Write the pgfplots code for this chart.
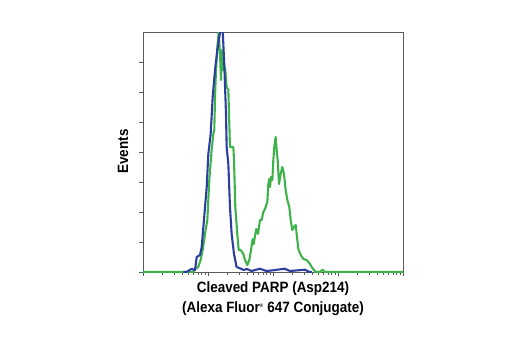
\documentclass[border=0pt]{standalone}
\usepackage{pgfplots}
\pgfplotsset{compat=1.18}
\usepackage{fontspec}
\setmainfont{Liberation Sans}[FakeStretch=0.9]
\definecolor{fcblue}{RGB}{44,62,160}
\definecolor{fcgreen}{RGB}{62,178,74}
\definecolor{axgray}{RGB}{90,90,90}
\begin{document}
\begin{tikzpicture}
\useasboundingbox (-143bp,-78bp) rectangle (377bp,272bp);
\begin{axis}[
  scale only axis, width=260bp, height=240bp,
  at={(0,0)}, anchor=south west,
  xmin=0, xmax=4, ymin=0, ymax=240,
  axis line style={axgray, line width=0.6pt},
  tick style={axgray, line width=0.6pt},
  tick align=outside,
  xtick={0,1,2,3,4},
  minor xtick={0.301,0.477,0.602,0.699,0.778,0.845,0.903,0.954,
               1.301,1.477,1.602,1.699,1.778,1.845,1.903,1.954,
               2.301,2.477,2.602,2.699,2.778,2.845,2.903,2.954,
               3.301,3.477,3.602,3.699,3.778,3.845,3.903,3.954},
  major tick length=4bp, minor tick length=2.5bp,
  ytick={0,30,60,90,120,150,180,210},
  xticklabels={}, yticklabels={},
  xtick pos=bottom, ytick pos=left,
  xlabel={\bfseries Cleaved PARP (Asp214)\\\bfseries (Alexa Fluor\textsuperscript{\tiny ®} 647 Conjugate)},
  xlabel style={at={(axis description cs:0.5,-0.039)}, anchor=north, align=center, font=\fontsize{15}{20}\selectfont, inner sep=0pt},
  ylabel={\bfseries Events},
  ylabel style={at={(axis description cs:-0.077,0.502)}, anchor=center, font=\fontsize{15}{18}\selectfont, inner sep=0pt},
]
\addplot[fcgreen, line width=2.1pt, line join=round] coordinates {
(0,0) (0.77,0) (0.8,3) (0.85,5) (0.887,12) (0.918,22) (0.954,38) (0.99,52)
(1.02,92) (1.056,122) (1.082,138) (1.097,142) (1.108,175) (1.123,202) (1.144,225)
(1.164,240) (1.185,218) (1.2,192) (1.215,222) (1.236,202) (1.262,205) (1.287,185)
(1.313,182) (1.338,125) (1.39,125) (1.4,112) (1.42,65) (1.451,38) (1.472,22)
(1.503,22) (1.544,18) (1.564,13) (1.605,7) (1.636,12) (1.662,22) (1.687,33)
(1.703,28) (1.728,38) (1.744,43) (1.77,38) (1.8,52) (1.826,52) (1.851,60)
(1.877,63) (1.913,70) (1.928,88) (1.944,93) (1.954,85) (1.97,95) (1.99,92)
(2.005,112) (2.02,125) (2.041,135) (2.056,122) (2.072,112) (2.092,88) (2.118,98)
(2.144,105) (2.169,98) (2.195,82) (2.221,72) (2.251,65) (2.272,52) (2.297,42)
(2.323,45) (2.349,47) (2.364,38) (2.39,23) (2.426,17) (2.467,13) (2.518,12)
(2.569,8) (2.595,5) (2.631,2) (2.656,0) (2.72,0) (2.764,2.3) (2.8,0) (4,0)
};
\addplot[fcblue, line width=2.1pt, line join=round] coordinates {
(0.62,0) (0.67,0) (0.75,3.3) (0.8,1.7) (0.826,15) (0.877,17) (0.903,25) (0.938,52)
(0.98,85) (1.005,118) (1.041,138) (1.072,175) (1.108,202) (1.144,222) (1.174,235)
(1.2,245) (1.226,242) (1.25,208) (1.277,158) (1.287,125) (1.313,108) (1.338,65)
(1.364,38) (1.4,18) (1.44,5) (1.518,3) (1.55,2) (1.6,3) (1.67,1) (1.8,3.3)
(1.84,2.3) (1.9,1) (2.0,1.7) (2.18,3.3) (2.26,1) (2.49,2.3) (2.53,1) (2.56,0) (2.6,0)
};
\end{axis}
\end{tikzpicture}
\end{document}
